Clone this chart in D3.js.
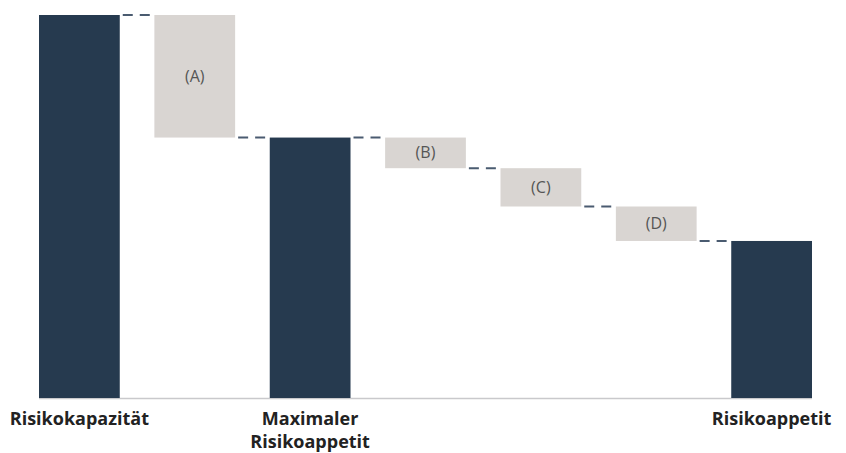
<!DOCTYPE html>
<html>
<head>
<meta charset="utf-8">
<script src="https://cdn.jsdelivr.net/npm/d3@7"></script>
<style>
  body { margin: 0; background: #fff; }
  svg { display: block; font-family: "Open Sans", "Noto Sans", sans-serif; }
</style>
</head>
<body>
<script>
// Steps of the waterfall, left to right
var steps = ["Risikokapazität", "A", "Maximaler Risikoappetit", "B", "C", "D", "Risikoappetit"];
var kinds = ["total", "delta", "total", "delta", "delta", "delta", "total"];
var values = [100, -32, 68, -8, -10, -9, 41];
var stepLabels = [["Risikokapazität"], ["(A)"], ["Maximaler", "Risikoappetit"], ["(B)"], ["(C)"], ["(D)"], ["Risikoappetit"]];

var width = 846, height = 453;
var margin = {top: 15, right: 34, bottom: 55, left: 39};

var svg = d3.select("body")
    .append("svg")
        .attr("width", width)
        .attr("height", height);

var x = d3.scaleBand()
    .domain(steps)
    .range([margin.left, width - margin.right])
    .paddingInner(0.3)
    .paddingOuter(0);

var y = d3.scaleLinear()
    .domain([0, 100])
    .range([height - margin.bottom, margin.top]);

// work out start / end of every step
var running = 0;
var data = steps.map(function(s, i) {
    var d = {key: s, kind: kinds[i], label: stepLabels[i]};
    if (kinds[i] === "total") {
        d.start = 0; d.end = values[i]; running = values[i];
    } else {
        d.start = running; d.end = running + values[i]; running = d.end;
    }
    return d;
});

// baseline
svg.append("line")
    .attr("x1", x.range()[0])
    .attr("x2", x.range()[1])
    .attr("y1", y(0) + 0.5)
    .attr("y2", y(0) + 0.5)
    .style("stroke", "#c9c9cc")
    .style("stroke-width", 1.5);

// connectors
for (var i = 0; i < data.length - 1; i++) {
    svg.append("line")
        .attr("x1", x(data[i].key) + x.bandwidth() + 3)
        .attr("x2", x(data[i + 1].key) - 2)
        .attr("y1", y(data[i].end))
        .attr("y2", y(data[i].end))
        .style("stroke", "#4a5b70")
        .style("stroke-width", 2)
        .style("stroke-dasharray", "10,7");
}

// bars
svg.selectAll("rect.bar")
    .data(data)
    .enter().append("rect")
        .attr("class", "bar")
        .attr("x", function(d) { return x(d.key); })
        .attr("y", function(d) { return y(Math.max(d.start, d.end)); })
        .attr("width", x.bandwidth())
        .attr("height", function(d) { return Math.abs(y(d.start) - y(d.end)); })
        .style("fill", function(d) { return d.kind === "total" ? "#263a4f" : "#d9d5d2"; });

// labels inside the delta boxes
svg.selectAll("text.delta")
    .data(data.filter(function(d) { return d.kind === "delta"; }))
    .enter().append("text")
        .attr("class", "delta")
        .attr("x", function(d) { return x(d.key) + x.bandwidth() / 2; })
        .attr("y", function(d) { return (y(d.start) + y(d.end)) / 2; })
        .attr("dy", "0.35em")
        .style("text-anchor", "middle")
        .style("font-size", "16px")
        .style("fill", "#555")
        .text(function(d) { return d.label[0]; });

// category labels under the totals
data.filter(function(d) { return d.kind === "total"; }).forEach(function(d) {
    var t = svg.append("text")
        .attr("x", x(d.key) + x.bandwidth() / 2)
        .attr("y", y(0) + 27)
        .style("text-anchor", "middle")
        .style("font-size", "18px")
        .style("font-weight", "700")
        .style("fill", "#222");
    d.label.forEach(function(line, j) {
        t.append("tspan")
            .attr("x", x(d.key) + x.bandwidth() / 2)
            .attr("dy", j === 0 ? 0 : 23)
            .text(line);
    });
});
</script>
</body>
</html>
